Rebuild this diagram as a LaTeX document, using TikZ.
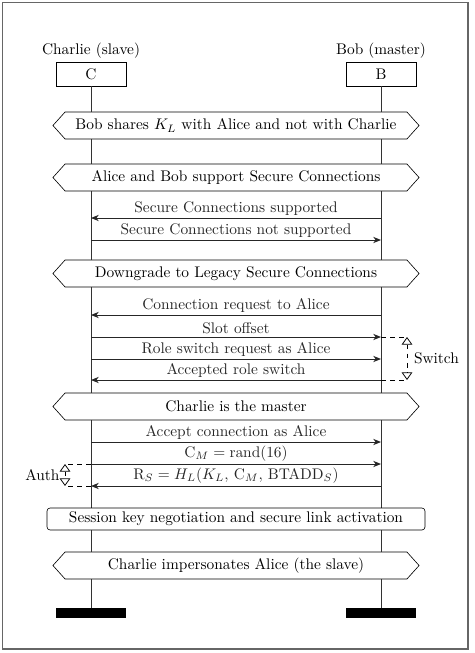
\documentclass[tikz,border=0pt]{standalone}
\usetikzlibrary{arrows.meta,positioning,shapes.symbols}
\tikzset{
  mscinst/.style={draw, minimum width=45.5pt, minimum height=15.6pt, inner sep=1pt},
  mscend/.style={fill=black, minimum width=45.5pt, minimum height=6.5pt, inner sep=0pt},
  mscname/.style={inner sep=2pt},
  msccond/.style={draw, fill=white, shape=signal, signal to=west and east, signal pointer angle=96, minimum width=238pt, minimum height=17.6pt, inner sep=1pt},
  mscaction/.style={draw, fill=white, rounded corners=2pt, minimum width=245.7pt, minimum height=14.3pt, inner sep=1pt},
  msclife/.style={line width=0.6pt, black!80},
  mscmsg/.style={-{Stealth[length=5pt, width=4pt, inset=1.5pt]}, line width=0.6pt, black!85},
  msclabel/.style={above, inner sep=1.5pt},
  mscreg/.style={dashed, line width=0.5pt},
  mscregtip/.style={mscreg, {Triangle[open, length=5pt, width=7pt]}-{Triangle[open, length=5pt, width=7pt]}},
  mscframe/.style={draw=black!60, line width=0.9pt}
}
\begin{document}
\begin{tikzpicture}[x=0.65pt, y=-0.65pt]
\useasboundingbox (0,0) rectangle (475,653);
\draw[mscframe] (2.5,2.5) rectangle (468,649);

% instances
\node[mscinst] (C) at (91,74) {C};
\node[mscinst] (B) at (381,74) {B};
\node[mscname, above=0pt of C] (Cname) {Charlie (slave)};
\node[mscname, above=0pt of B] (Bname) {Bob (master)};
\node[mscend] (Cend) at (91,613) {};
\node[mscend] (Bend) at (381,613) {};
\draw[msclife] (C) -- (Cend);
\draw[msclife] (B) -- (Bend);

% conditions
\node[msccond] (cond1) at (236,125.5) {Bob shares $K_L$ with Alice and not with Charlie};
\node[msccond] (cond2) at (236,177.5) {Alice and Bob support Secure Connections};
\node[msccond] (cond3) at (236,273.5) {Downgrade to Legacy Secure Connections};
\node[msccond] (cond4) at (236,406.5) {Charlie is the master};
\node[mscaction] (act1) at (236,519) {Session key negotiation and secure link activation};
\node[msccond] (cond5) at (236,565.5) {Charlie impersonates Alice (the slave)};

% messages
\foreach \y/\src/\dst/\txt [count=\i] in {
  218/B/C/{Secure Connections supported},
  240/C/B/{Secure Connections not supported},
  315/B/C/{Connection request to Alice},
  337/C/B/{Slot offset},
  359/C/B/{Role switch request as Alice},
  380/B/C/{Accepted role switch},
  442/C/B/{Accept connection as Alice},
  464/C/B/{$\mathrm{C}_M = \mathrm{rand}(16)$},
  486/B/C/{$\mathrm{R}_S = H_L(K_L,\, \mathrm{C}_M,\, \mathrm{BTADD}_S)$}}{
  \coordinate (C\i) at (91,\y);
  \coordinate (B\i) at (381,\y);
  \draw[mscmsg] (\src\i) -- node[msclabel] {\txt} (\dst\i);
}

% switch region
\coordinate (sw1) at (407,337);
\coordinate (sw2) at (407,380);
\draw[mscreg] (B4) -- (sw1);
\draw[mscreg] (B6) -- (sw2);
\draw[mscregtip] (sw1) -- node[right=1pt] (swlabel) {Switch} (sw2);

% auth region
\coordinate (au1) at (65,464);
\coordinate (au2) at (65,486);
\draw[mscreg] (C8) -- (au1);
\draw[mscreg] (C9) -- (au2);
\draw[mscregtip] (au1) -- node[left=0pt] (aulabel) {Auth} (au2);
\end{tikzpicture}
\end{document}
